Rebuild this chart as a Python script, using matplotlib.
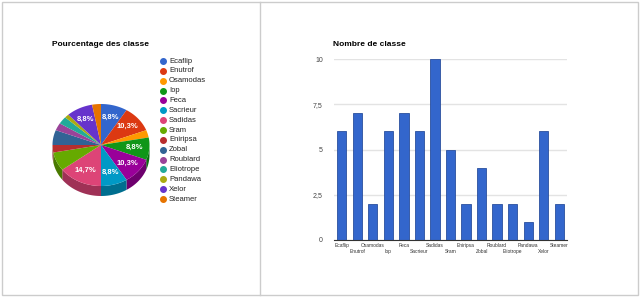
import numpy as np
import matplotlib.pyplot as plt
from matplotlib.patches import Polygon, Rectangle
from matplotlib.lines import Line2D
from matplotlib.colors import to_rgb

plt.rcParams['font.family'] = ['Liberation Sans', 'DejaVu Sans']

# données
classes = ['Ecaflip', 'Enutrof', 'Osamodas', 'Iop', 'Feca', 'Sacrieur', 'Sadidas', 'Sram',
           'Eniripsa', 'Zobal', 'Roublard', 'Eliotrope', 'Pandawa', 'Xelor', 'Steamer']
counts = [6, 7, 2, 6, 7, 6, 10, 5, 2, 4, 2, 2, 1, 6, 2]
colors = ['#3366cc', '#dc3912', '#ff9900', '#109618', '#990099', '#0099c6', '#dd4477',
          '#66aa00', '#b82e2e', '#316395', '#994499', '#22aa99', '#aaaa11', '#6633cc', '#e67300']
yticks = [0, 2.5, 5, 7.5, 10]
ytick_labels = ['0', '2,5', '5', '7,5', '10']

W, H = 640, 297
fig = plt.figure(figsize=(6.4, 2.97), dpi=100)

# cadres
fig.add_artist(Rectangle((2 / W, 2 / H), 636 / W, 293 / H, transform=fig.transFigure,
                         fill=False, edgecolor='#cccccc', lw=1))
fig.add_artist(Line2D([260 / W, 260 / W], [2 / H, 1 - 2 / H], transform=fig.transFigure,
                      color='#cccccc', lw=1))

# ---- camembert 3D ----
fig.text(52 / W, 1 - 44 / H, 'Pourcentage des classe', fontsize=6, weight='bold', va='center')
ax_pie = fig.add_axes([40 / W, 1 - 205 / H, 120 / W, 110 / H])
ax_pie.set_xlim(0, 120)
ax_pie.set_ylim(0, 110)
ax_pie.axis('off')
cx, cy = 61, 60
rx, ry, depth = 48.5, 41, 10

frac = np.array(counts) / sum(counts)
bounds = 90 - 360 * np.concatenate([[0], np.cumsum(frac)])

# côtés
for i in range(len(counts)):
    t = np.radians(np.linspace(bounds[i], bounds[i + 1], 300))
    mask = np.sin(t) <= 0
    if mask.sum() < 2:
        continue
    arc = np.column_stack([cx + rx * np.cos(t[mask]), cy + ry * np.sin(t[mask])])
    low = arc - [0, depth]
    side_col = tuple(np.array(to_rgb(colors[i])) * 0.72)
    ax_pie.add_patch(Polygon(np.vstack([arc, low[::-1]]), closed=True, color=side_col, lw=0))

# dessus
for i in range(len(counts)):
    t = np.radians(np.linspace(bounds[i], bounds[i + 1], 100))
    arc = np.column_stack([cx + rx * np.cos(t), cy + ry * np.sin(t)])
    ax_pie.add_patch(Polygon(np.vstack([[cx, cy], arc]), closed=True, color=colors[i], lw=0))
    if frac[i] > 0.08:
        m = np.radians((bounds[i] + bounds[i + 1]) / 2)
        lab = f"{frac[i] * 100:.1f}%".replace('.', ',')
        ax_pie.text(cx + 0.7 * rx * np.cos(m), cy + 0.7 * ry * np.sin(m), lab,
                    color='white', fontsize=5.5, weight='bold', ha='center', va='center')

# légende
for i, (name, col) in enumerate(zip(classes, colors)):
    y = 1 - (61 + i * 9.86) / H
    fig.add_artist(Line2D([163 / W], [y], marker='o', ms=4, color=col, transform=fig.transFigure))
    fig.text(169 / W, y, name, fontsize=5.5, va='center', color='#222222')

# ---- barres ----
fig.text(333 / W, 1 - 44 / H, 'Nombre de classe', fontsize=6, weight='bold', va='center')
ax = fig.add_axes([334 / W, 1 - 240 / H, 233 / W, 181 / H])
x = np.arange(len(counts))
ax.bar(x, counts, width=0.6, color='#3366cc', edgecolor='#2a4f9e', lw=0.6, zorder=3)
ax.set_xlim(-0.5, len(counts) - 0.5)
ax.set_ylim(0, 10)
ax.set_yticks(yticks)
ax.set_yticklabels(ytick_labels)
ax.set_xticks([])
ax.grid(axis='y', color='#e3e3e3', lw=1, zorder=0)
for s in ['top', 'right', 'left']:
    ax.spines[s].set_visible(False)
ax.spines['bottom'].set_color('#333333')
ax.spines['bottom'].set_zorder(4)
ax.tick_params(axis='y', length=0, labelsize=5, labelcolor='#444444', pad=8)
for i, name in enumerate(classes):
    yy = -0.028 if i % 2 == 0 else -0.066
    ax.text(i, yy, name, transform=ax.get_xaxis_transform(), fontsize=3.5,
            ha='center', va='center', color='#333333')

fig.savefig('out.png', dpi=100)
